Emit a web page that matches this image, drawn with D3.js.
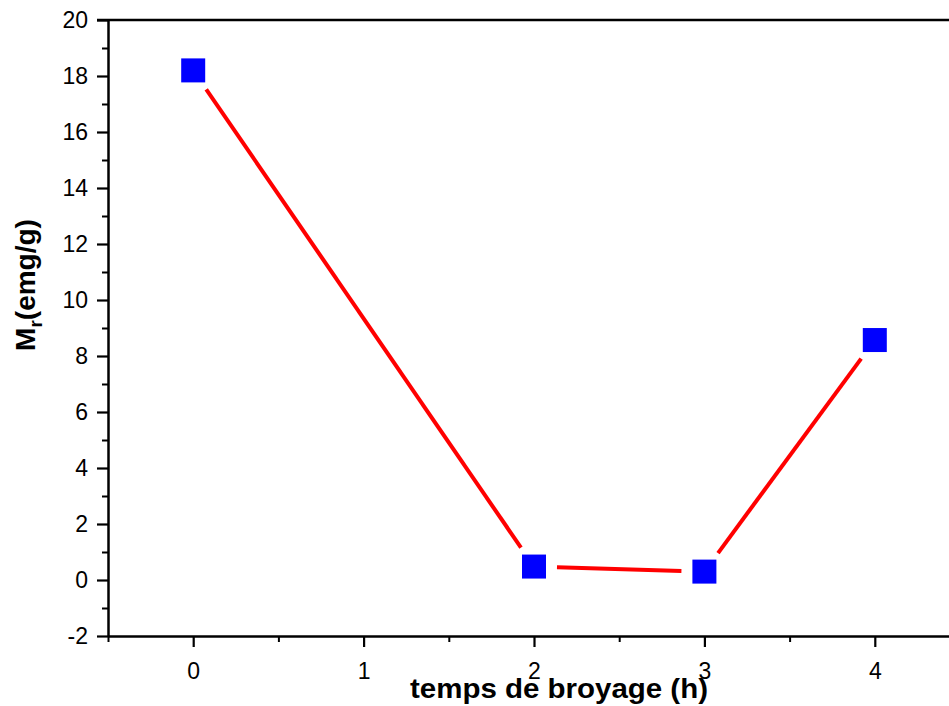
<!DOCTYPE html>
<html>
<head>
<meta charset="utf-8">
<script src="https://cdn.jsdelivr.net/npm/d3@7"></script>
<style>
  body { margin: 0; background: #fff; }
  svg { display: block; font-family: 'Liberation Sans', Arial, sans-serif; }
</style>
</head>
<body>
<div id="chart"></div>
<script>
// values
const hours = [0, 2, 3, 4];
const mr = [18.2, 0.48, 0.3, 8.57];
const xTicks = [0, 1, 2, 3, 4];
const yTicks = [-2, 0, 2, 4, 6, 8, 10, 12, 14, 16, 18, 20];

const width = 949;
const height = 706;
const margin = { top: 20, right: -11, bottom: 70, left: 108 };

const svg = d3.select('#chart').append('svg')
    .attr('width', width)
    .attr('height', height);

const xScale = d3.scaleLinear()
    .domain([ -0.5, 4.5 ])
    .range([ margin.left, width - margin.right ]);
const yScale = d3.scaleLinear()
    .domain([ -2, 20 ])
    .range([ height - margin.bottom, margin.top ]);

const axisColor = '#000';
const axisWidth = 2.5;
const plain = d => String(d); // hyphen minus, no decimals

// minor ticks (half steps) first, majors drawn over them
const xMinor = d3.range(-0.5, 4.6, 1);
const yMinor = d3.range(-1, 20, 2);

svg.append('g')
    .attr('transform', `translate(0,${yScale(-2)})`)
    .call(d3.axisBottom(xScale).tickValues(xMinor).tickSize(6).tickFormat('').tickSizeOuter(0))
    .call(g => g.select('.domain').remove())
    .call(g => g.selectAll('line').attr('stroke', axisColor).attr('stroke-width', 2));

svg.append('g')
    .attr('transform', `translate(${xScale(-0.5)},0)`)
    .call(d3.axisLeft(yScale).tickValues(yMinor).tickSize(6).tickFormat('').tickSizeOuter(0))
    .call(g => g.select('.domain').remove())
    .call(g => g.selectAll('line').attr('stroke', axisColor).attr('stroke-width', 2));

// bottom axis
svg.append('g')
    .attr('transform', `translate(0,${yScale(-2)})`)
    .call(d3.axisBottom(xScale).tickValues(xTicks).tickFormat(plain).tickSize(11).tickPadding(16).tickSizeOuter(0))
    .call(g => g.select('.domain').attr('stroke-width', axisWidth))
    .call(g => g.selectAll('line').attr('stroke-width', 2.2))
    .call(g => g.selectAll('text')
        .attr('font-size', 23)
        .attr('font-family', 'Liberation Sans, Arial, sans-serif')
        .attr('fill', '#000'));

// left axis
svg.append('g')
    .attr('transform', `translate(${xScale(-0.5)},0)`)
    .call(d3.axisLeft(yScale).tickValues(yTicks).tickFormat(plain).tickSize(11).tickPadding(9).tickSizeOuter(0))
    .call(g => g.select('.domain').attr('stroke-width', axisWidth))
    .call(g => g.selectAll('line').attr('stroke-width', 2.2))
    .call(g => g.selectAll('text')
        .attr('font-size', 23)
        .attr('font-family', 'Liberation Sans, Arial, sans-serif')
        .attr('fill', '#000'));

// top frame line (no ticks)
svg.append('line')
    .attr('x1', xScale(-0.5) - 11)
    .attr('x2', width)
    .attr('y1', yScale(20))
    .attr('y2', yScale(20))
    .attr('stroke', axisColor)
    .attr('stroke-width', axisWidth);

// line segments with a gap around each marker
const gap = 23;
const pts = hours.map((h, i) => [ xScale(h), yScale(mr[i]) ]);
for (let i = 0; i < pts.length - 1; i++) {
    const [x1, y1] = pts[i];
    const [x2, y2] = pts[i + 1];
    const len = Math.hypot(x2 - x1, y2 - y1);
    const ux = (x2 - x1) / len, uy = (y2 - y1) / len;
    svg.append('line')
        .attr('x1', x1 + ux * gap)
        .attr('y1', y1 + uy * gap)
        .attr('x2', x2 - ux * gap)
        .attr('y2', y2 - uy * gap)
        .attr('stroke', '#ff0000')
        .attr('stroke-width', 4);
}

// markers
const size = 24;
svg.append('g').selectAll('rect')
    .data(hours)
    .join('rect')
    .attr('x', d => xScale(d) - size / 2)
    .attr('y', (d, i) => yScale(mr[i]) - size / 2)
    .attr('width', size)
    .attr('height', size)
    .attr('fill', '#0000ff');

// axis titles
svg.append('text')
    .attr('x', 559)
    .attr('y', 698)
    .attr('text-anchor', 'middle')
    .attr('font-size', 27)
    .attr('font-weight', 'bold')
    .attr('textLength', 298)
    .attr('lengthAdjust', 'spacingAndGlyphs')
    .text('temps de broyage (h)');

const yTitle = svg.append('text')
    .attr('transform', 'translate(35,285) rotate(-90)')
    .attr('text-anchor', 'middle')
    .attr('font-size', 28)
    .attr('font-weight', 'bold');
yTitle.append('tspan').text('M');
yTitle.append('tspan').attr('font-size', 19).attr('dy', 7).text('r');
yTitle.append('tspan').attr('dy', -7).text('(emg/g)');
</script>
</body>
</html>
